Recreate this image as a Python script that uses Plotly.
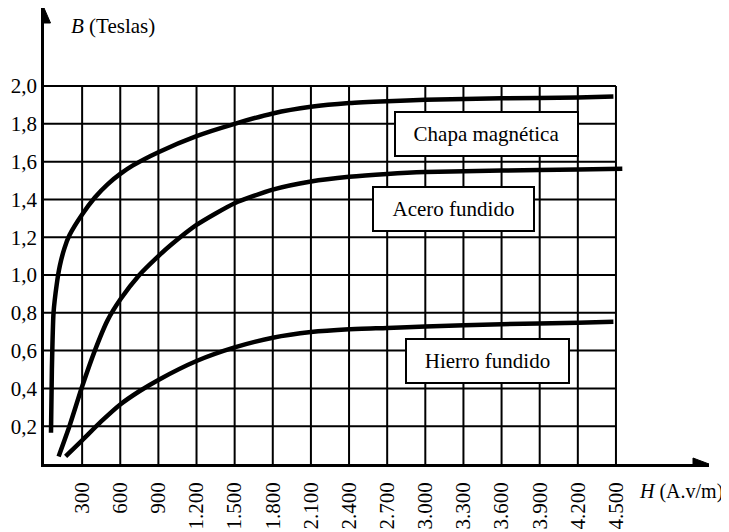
import plotly.graph_objects as go

# ---- data ----
h_ticks = [300, 600, 900, 1200, 1500, 1800, 2100, 2400, 2700, 3000, 3300, 3600, 3900, 4200, 4500]
h_labels = ["300", "600", "900", "1.200", "1.500", "1.800", "2.100", "2.400", "2.700",
            "3.000", "3.300", "3.600", "3.900", "4.200", "4.500"]
b_ticks = [0.2, 0.4, 0.6, 0.8, 1.0, 1.2, 1.4, 1.6, 1.8, 2.0]
b_labels = ["0,2", "0,4", "0,6", "0,8", "1,0", "1,2", "1,4", "1,6", "1,8", "2,0"]

chapa_h = [55, 62, 75, 100, 125, 160, 200, 300, 400, 500, 600, 700, 900, 1200, 1500, 1800, 2100, 2400, 2700, 3000, 3600, 4200, 4480]
chapa_b = [0.165, 0.5, 0.8, 0.95, 1.05, 1.14, 1.21, 1.32, 1.41, 1.48, 1.535, 1.58, 1.65, 1.735, 1.8, 1.855, 1.89, 1.91, 1.92, 1.927, 1.935, 1.94, 1.945]

acero_h = [115, 200, 300, 400, 500, 600, 750, 900, 1000, 1200, 1500, 1800, 2100, 2400, 2700, 3000, 3600, 4200, 4550]
acero_b = [0.04, 0.2, 0.41, 0.6, 0.76, 0.87, 1.0, 1.1, 1.16, 1.265, 1.38, 1.452, 1.495, 1.52, 1.535, 1.545, 1.553, 1.558, 1.562]

hierro_h = [170, 300, 450, 600, 750, 900, 1200, 1500, 1800, 2100, 2400, 2700, 3000, 3600, 4200, 4480]
hierro_b = [0.04, 0.125, 0.225, 0.315, 0.385, 0.445, 0.545, 0.617, 0.668, 0.698, 0.713, 0.72, 0.728, 0.74, 0.748, 0.753]

labels = ["Chapa magnética", "Acero fundido", "Hierro fundido"]
label_h = [3483, 3223, 3491]
label_b = [1.746, 1.349, 0.545]
label_w = [181, 159, 161]

FONT = "Liberation Serif"
FS = 21
X_MAX = 5232
Y_MAX = 2.413

fig = go.Figure()

# grid (only inside 0..4500 x 0..2.0)
h_max = h_ticks[-1]
b_max = b_ticks[-1]
for hv in h_ticks:
    fig.add_shape(type="line", x0=hv, x1=hv, y0=0, y1=b_max, xref="x", yref="y",
                  line=dict(color="black", width=2), layer="below")
for bv in b_ticks:
    fig.add_shape(type="line", x0=0, x1=h_max, y0=bv, y1=bv, xref="x", yref="y",
                  line=dict(color="black", width=2), layer="below")

for hs, bs in [(chapa_h, chapa_b), (acero_h, acero_b), (hierro_h, hierro_b)]:
    fig.add_trace(go.Scatter(x=hs, y=bs, mode="lines",
                             line=dict(color="black", width=4.5, shape="spline", smoothing=0.6),
                             showlegend=False, hoverinfo="skip"))

for t, hx, by, w in zip(labels, label_h, label_b, label_w):
    fig.add_annotation(x=hx, y=by, xref="x", yref="y", text=t, showarrow=False,
                       font=dict(family=FONT, size=FS, color="black"),
                       bgcolor="white", bordercolor="black", borderwidth=2,
                       width=w, height=42, borderpad=0, align="center", valign="middle")

# axis arrowheads
fig.add_shape(type="path", xref="x", yref="y", xsizemode="pixel", ysizemode="pixel",
              xanchor=X_MAX, yanchor=0, path="M -16,6 L 0,0 L -16,-6 Z",
              fillcolor="black", line=dict(color="black", width=1))
fig.add_shape(type="path", xref="x", yref="y", xsizemode="pixel", ysizemode="pixel",
              xanchor=0, yanchor=Y_MAX, path="M -6.5,-15 L 0,0 L 6.5,-15 Z",
              fillcolor="black", line=dict(color="black", width=1))

# axis titles
fig.add_annotation(x=0, y=Y_MAX, xref="x", yref="y", xanchor="left", yanchor="top",
                   xshift=25, yshift=-4, showarrow=False,
                   text="<i>B</i> (Teslas)", font=dict(family=FONT, size=FS, color="black"))
fig.add_annotation(x=1, y=0, xref="paper", yref="paper", xanchor="right", yanchor="top",
                   xshift=16, yshift=-14, showarrow=False,
                   text="<i>H</i> (A.v/m)", font=dict(family=FONT, size=20, color="black"))

fig.update_layout(
    width=729, height=532,
    template="none",
    paper_bgcolor="white", plot_bgcolor="white",
    margin=dict(l=36, r=28, t=0, b=76),
    showlegend=False,
    xaxis=dict(range=[0, X_MAX], showgrid=False, zeroline=False, showline=True,
               linecolor="black", linewidth=2.5, tickmode="array", tickvals=h_ticks,
               ticktext=h_labels, tickangle=-90, ticks="outside", ticklen=7,
               tickcolor="rgba(0,0,0,0)", tickfont=dict(family=FONT, size=FS, color="black"),
               automargin=False, fixedrange=True),
    yaxis=dict(range=[0, Y_MAX], showgrid=False, zeroline=False, showline=True,
               linecolor="black", linewidth=2.5, tickmode="array", tickvals=b_ticks,
               ticktext=b_labels, ticks="",
               tickfont=dict(family=FONT, size=FS, color="black"),
               automargin=False, fixedrange=True),
)

fig.write_html("out.html")
